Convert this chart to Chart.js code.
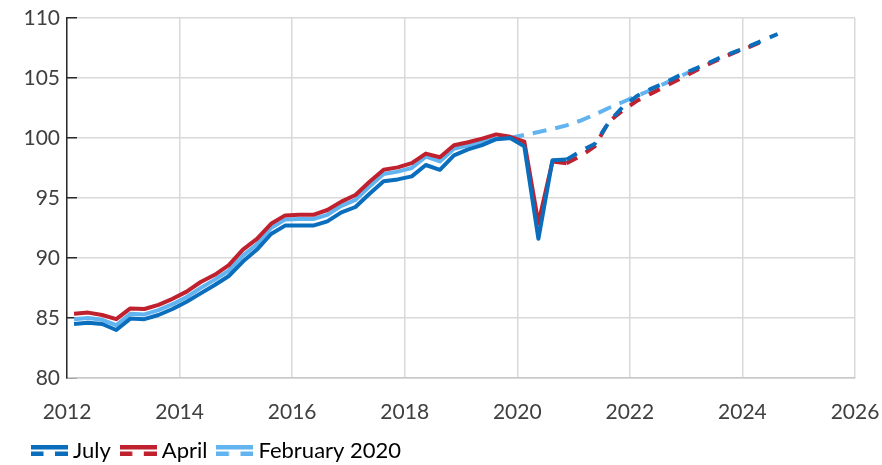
<!DOCTYPE html>
<html>
<head>
<meta charset="utf-8">
<script src="https://cdn.jsdelivr.net/npm/chart.js@4.4.1/dist/chart.umd.min.js"></script>
<style>
  html, body { margin: 0; padding: 0; background: #ffffff; }
  canvas { display: block; }
</style>
</head>
<body>
<canvas id="chart" width="882" height="465"></canvas>
<script>
// Quarterly index, 2019 Q4 = 100
const quarters = [
  '2012 Q1','2012 Q2','2012 Q3','2012 Q4',
  '2013 Q1','2013 Q2','2013 Q3','2013 Q4',
  '2014 Q1','2014 Q2','2014 Q3','2014 Q4',
  '2015 Q1','2015 Q2','2015 Q3','2015 Q4',
  '2016 Q1','2016 Q2','2016 Q3','2016 Q4',
  '2017 Q1','2017 Q2','2017 Q3','2017 Q4',
  '2018 Q1','2018 Q2','2018 Q3','2018 Q4',
  '2019 Q1','2019 Q2','2019 Q3','2019 Q4',
  '2020 Q1','2020 Q2','2020 Q3','2020 Q4',
  '2021 Q1','2021 Q2','2021 Q3','2021 Q4',
  '2022 Q1','2022 Q2','2022 Q3','2022 Q4',
  '2023 Q1','2023 Q2','2023 Q3','2023 Q4',
  '2024 Q1','2024 Q2','2024 Q3'
];

const july = [
  84.5, 84.6, 84.5, 84.0,
  84.95, 84.9, 85.25, 85.75,
  86.35, 87.05, 87.75, 88.5,
  89.7, 90.7, 92.0, 92.7,
  92.7, 92.7, 93.05, 93.8,
  94.25, 95.35, 96.4, 96.55,
  96.8, 97.75, 97.35, 98.55,
  99.05, 99.4, 99.9, 100.0,
  99.3, 91.6, 98.15, 98.2,
  98.9, 99.5, 101.3, 102.6,
  103.5, 104.1, 104.6, 105.2,
  105.7, 106.2, 106.75, 107.2,
  107.65, 108.15, 108.67
];

const april = [
  85.35, 85.45, 85.25, 84.9,
  85.8, 85.75, 86.1, 86.6,
  87.2, 88.0, 88.6, 89.4,
  90.7, 91.6, 92.85, 93.55,
  93.6, 93.6, 94.0, 94.7,
  95.25, 96.35, 97.35, 97.55,
  97.9, 98.7, 98.4, 99.4,
  99.65, 99.95, 100.3, 100.1,
  99.7, 92.9, 98.05, 97.9,
  98.5, 99.3, 101.35, 102.3,
  103.1, 103.7, 104.3, 104.9,
  105.5, 106.1, 106.65, 107.15,
  107.6, 108.1
];

const february2020 = [
  84.9, 85.0, 84.85, 84.4,
  85.35, 85.3, 85.65, 86.15,
  86.75, 87.5, 88.2, 88.95,
  90.2, 91.15, 92.5, 93.2,
  93.25, 93.25, 93.6, 94.35,
  94.85, 95.95, 97.0, 97.2,
  97.5, 98.45, 98.05, 99.1,
  99.4, 99.7, 99.95, 100.0,
  100.25, 100.5, 100.75, 101.05,
  101.45, 101.95, 102.5, 103.0,
  103.5, 104.0, 104.55, 105.1,
  105.65
];

// First quarter of each projection (dashed from here on)
const projectionStart = { july: '2020 Q4', april: '2020 Q4', february2020: '2019 Q4' };

const xTicks = [2012, 2014, 2016, 2018, 2020, 2022, 2024, 2026];
const yTicks = [80, 85, 90, 95, 100, 105, 110];

const colors = { july: '#0a6ebd', april: '#c0212e', february2020: '#62b4f0' };

// Quarter label -> decimal year at mid-quarter
function quarterToYear(q) {
  const [y, qq] = q.split(' Q');
  return Number(y) + (Number(qq) - 1) * 0.25 + 0.125;
}

function toPoints(values) {
  return values.map((v, i) => ({ x: quarterToYear(quarters[i]), y: v }));
}

function makeSeries(label, values, color, startQuarter, dash) {
  const split = quarters.indexOf(startQuarter);
  return {
    label,
    data: toPoints(values),
    borderColor: color,
    backgroundColor: color,
    borderWidth: 4,
    borderCapStyle: 'butt',
    borderJoinStyle: 'round',
    pointRadius: 0,
    tension: 0,
    fill: false,
    segment: {
      borderDash: ctx => (ctx.p0DataIndex >= split ? dash : [])
    }
  };
}

// Legend key: solid stroke above a dashed stroke
function makeIcon(color) {
  const c = document.createElement('canvas');
  c.width = 37; c.height = 12;
  const g = c.getContext('2d');
  g.fillStyle = color;
  g.fillRect(0, 0, 37, 4.5);
  g.fillRect(0, 6.5, 12.5, 4.5);
  g.fillRect(24, 6.5, 13, 4.5);
  return c;
}

// Keep the plot area fixed: no extra room for overhanging tick labels
function clearScalePadding(s) {
  s.paddingLeft = 0; s.paddingRight = 0; s.paddingTop = 0; s.paddingBottom = 0;
}

const datasets = [
  makeSeries('July', july, colors.july, projectionStart.july, [12, 10]),
  makeSeries('April', april, colors.april, projectionStart.april, [12, 10]),
  makeSeries('February 2020', february2020, colors.february2020, projectionStart.february2020, [14, 9])
];
const icons = [makeIcon(colors.july), makeIcon(colors.april), makeIcon(colors.february2020)];

Chart.defaults.font.family = 'Lato';

new Chart(document.getElementById('chart'), {
  type: 'line',
  data: { datasets },
  options: {
    responsive: false,
    animation: false,
    devicePixelRatio: 1,
    layout: { padding: { left: 22, right: 27, top: 18, bottom: -7 } },
    plugins: {
      tooltip: { enabled: false },
      legend: {
        position: 'bottom',
        align: 'start',
        labels: {
          usePointStyle: true,
          pointStyleWidth: 25,
          padding: 15,
          color: '#000000',
          font: { size: 22 },
          generateLabels: chart => chart.data.datasets.map((ds, i) => ({
            text: ds.label,
            pointStyle: icons[i],
            datasetIndex: i,
            hidden: false,
            lineWidth: 0,
            strokeStyle: 'rgba(0,0,0,0)',
            fillStyle: 'rgba(0,0,0,0)'
          }))
        }
      }
    },
    scales: {
      x: {
        type: 'linear',
        min: 2012,
        max: 2026,
        afterBuildTicks: s => { s.ticks = xTicks.map(v => ({ value: v })); },
        afterFit: s => { s.height = 47; clearScalePadding(s); },
        grid: { color: '#d9d9d9', lineWidth: 1.5, drawTicks: false },
        border: { color: '#c8c8c8', width: 1.5 },
        ticks: {
          padding: 22,
          color: '#404040',
          font: { size: 21 },
          maxRotation: 0,
          autoSkip: false,
          callback: v => String(v)
        }
      },
      y: {
        min: 80,
        max: 110,
        afterBuildTicks: s => { s.ticks = yTicks.map(v => ({ value: v })); },
        afterFit: s => { s.width = 45; clearScalePadding(s); },
        grid: { color: '#d9d9d9', lineWidth: 1.5, tickLength: -10, tickColor: '#2b2b2b', tickWidth: 1.5 },
        border: { color: '#2b2b2b', width: 1.5 },
        ticks: { padding: 17, color: '#404040', font: { size: 21 } }
      }
    }
  }
});
</script>
</body>
</html>
